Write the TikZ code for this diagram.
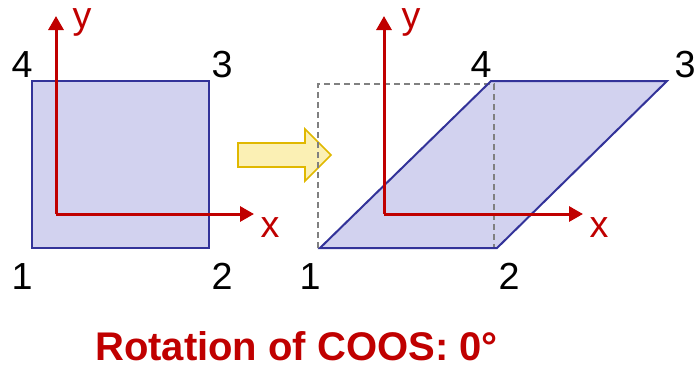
\documentclass[tikz,border=0pt]{standalone}
\usepackage{fontspec}
\setmainfont{Liberation Sans}
\usetikzlibrary{arrows.meta}
\definecolor{shfill}{HTML}{D2D2EF}
\definecolor{shdraw}{HTML}{333399}
\definecolor{axred}{HTML}{C00000}
\definecolor{arrfill}{HTML}{FBF0B4}
\definecolor{arrdraw}{HTML}{E0B800}
\tikzset{
  quad/.style={draw=shdraw, line width=2pt, line join=miter},
  axis/.style={draw=axred, line width=3pt, -{Triangle[length=14pt,width=15pt]}},
  lbl/.style={font=\fontsize{37.7}{40}\selectfont, anchor=base, inner sep=0pt},
  axlbl/.style={lbl, text=axred},
  ghost/.style={draw=gray, line width=1.5pt, dash pattern=on 6pt off 4pt},
}
\begin{document}
\begin{tikzpicture}[x=1pt,y=-1pt]
\useasboundingbox (0,0) rectangle (695,365);
% left square
\coordinate (L1) at (32,248);
\coordinate (L2) at (209,248);
\coordinate (L3) at (209,80.5);
\coordinate (L4) at (32,80.5);
\draw[quad, fill=shfill] (L1) -- (L2) -- (L3) -- (L4) -- cycle;
\coordinate (LO) at (56,214);
\coordinate (LY) at (56,16);
\coordinate (LX) at (254,214);
\draw[axis] (LO) -- (LY);
\draw[axis] (LO) -- (LX);
\node[lbl] (n4) at (22,77) {4};
\node[lbl] (n3) at (222,77) {3};
\node[lbl] (n1) at (22,289) {1};
\node[lbl] (n2) at (222,289) {2};
\node[axlbl] (ly) at (82,28) {y};
\node[axlbl] (lx) at (270,237) {x};
% block arrow
\draw[fill=arrfill, draw=arrdraw, line width=1.6pt, line join=miter]
  (238,143) -- (305,143) -- (305,129) -- (331,155) -- (305,181) -- (305,167) -- (238,167) -- cycle;
% right: parallelogram fill, dashed original square, outline
\coordinate (G1) at (318,248);
\coordinate (G3) at (494,84);
\coordinate (R1) at (320,248);
\coordinate (R2) at (497,248);
\coordinate (R3) at (667,81);
\coordinate (R4) at (491,81);
\fill[shfill] (R1) -- (R2) -- (R3) -- (R4) -- cycle;
\draw[ghost] (G1) rectangle (G3);
\draw[quad] (R1) -- (R2) -- (R3) -- (R4) -- cycle;
\coordinate (RO) at (384,214);
\coordinate (RY) at (384,16);
\coordinate (RX) at (583,214);
\draw[axis] (RO) -- (RY);
\draw[axis] (RO) -- (RX);
\node[lbl] (m4) at (481,77) {4};
\node[lbl] (m3) at (685,77) {3};
\node[lbl] (m1) at (310,289) {1};
\node[lbl] (m2) at (509,289) {2};
\node[axlbl] (ry) at (411,28) {y};
\node[axlbl] (rx) at (599,237) {x};
% title
\node[anchor=base, inner sep=0pt, text=axred, font=\bfseries\fontsize{40}{44}\selectfont] (title) at (296.5,360) {Rotation of COOS: 0°};
\end{tikzpicture}
\end{document}
